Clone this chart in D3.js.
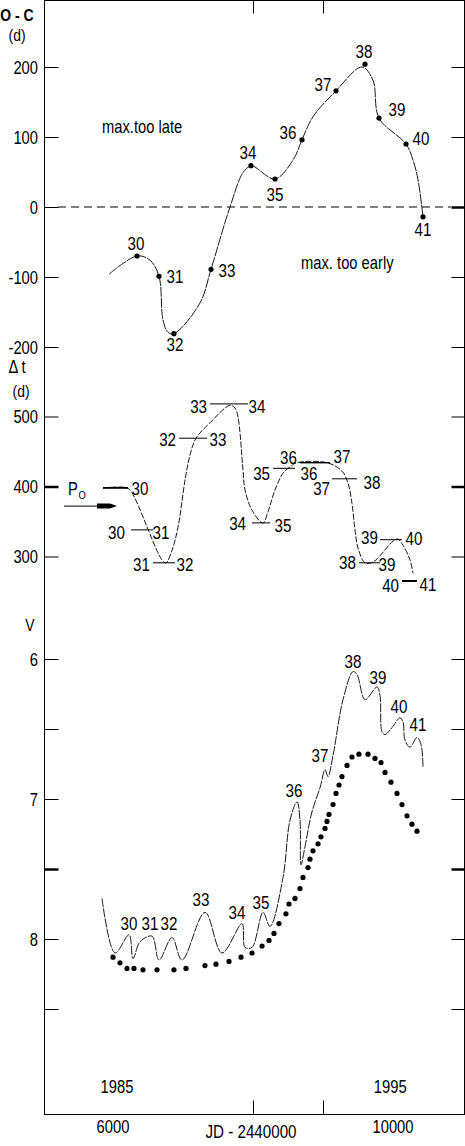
<!DOCTYPE html>
<html><head><meta charset="utf-8">
<script src="https://cdn.jsdelivr.net/npm/d3@7"></script>
<style>
html,body{margin:0;padding:0;background:#fff;}
svg{display:block;font-family:"Liberation Sans",Arial,Helvetica,sans-serif;}
</style></head><body>
<svg id="c" width="465" height="1146"></svg>
<script>
// ---------------- DATA ----------------
// Panel 1: O - C of maxima (days)
const ocMaxima = ["30","31","32","33","34","35","36","37","38","39","40","41"];
const ocJD     = [6343, 6657, 6871, 7400, 7971, 8314, 8700, 9186, 9600, 9800, 10186, 10429];
const ocValue  = [-70, -99, -181, -89, 59, 40, 96, 166, 204, 127, 90, -14];
const ocCurveJD    = [5943, 6343, 6529, 6657, 6714, 6786, 6871, 7243, 7400, 7671, 7857, 7971, 8029, 8314, 8571, 8700, 8857, 9186, 9557, 9714, 9800, 10186, 10286, 10357, 10429];
const ocCurveValue = [-96, -70, -76, -99, -161, -179, -181, -137, -89, 0, 49, 59, 57, 40, 67, 96, 129, 166, 200, 181, 127, 90, 67, 39, -14];
const ocTicks = [200, 100, 0, -100, -200];

// Panel 2: interval between successive maxima (days)
const dtStartLabel = ["", "30","31","32","33","34","35","36","37","38","39","40"];
const dtEndLabel   = ["30","31","32","33","34","35","36","37","38","39","40","41"];
const dtStartJD = [5857, 6257, 6571, 6943, 7386, 7986, 8286, 8671, 9129, 9514, 9814, 10129];
const dtEndJD   = [6214, 6571, 6886, 7343, 7929, 8243, 8600, 9100, 9486, 9814, 10129, 10343];
const dtValue   = [398, 338, 291, 469, 518, 348, 426, 434, 411, 291, 324, 265];
const dtCurveJD    = [5857, 6200, 6271, 6700, 6757, 6843, 6929, 7029, 7100, 7186, 7386, 7671, 7743, 7786, 7857, 7886, 7986, 8143, 8214, 8314, 8429, 8529, 8629, 9057, 9271, 9357, 9414, 9457, 9500, 9600, 9714, 10057, 10143, 10243, 10286];
const dtCurveValue = [398, 398, 391, 295, 291, 309, 342, 409, 445, 469, 491, 516, 512, 499, 424, 395, 366, 348, 364, 395, 419, 428, 434, 434, 422, 405, 376, 338, 312, 291, 292, 325, 316, 295, 276];
const p0ArrowJD = [5300, 6057];
const p0ArrowValue = 372;
const dtTicks = [500, 400, 300];

// Panel 3: V magnitude light curve and mean (dots)
const vCurveJD  = [5843, 6029, 6229, 6286, 6386, 6557, 6657, 6843, 6986, 7314, 7557, 7843, 7886, 7986, 8143, 8243, 8429, 8529, 8629, 8671, 8686, 8743, 8843, 8957, 9029, 9071, 9143, 9286, 9429, 9486, 9600, 9771, 9814, 9843, 9886, 9986, 10100, 10143, 10171, 10243, 10343, 10400, 10429];
const vCurveMag = [7.71, 8.10, 7.97, 8.14, 8.02, 7.98, 8.15, 7.99, 8.15, 7.81, 8.10, 7.89, 8.06, 8.06, 7.81, 7.91, 7.56, 7.15, 7.02, 7.15, 7.47, 7.34, 7.09, 6.92, 6.79, 6.84, 6.69, 6.29, 6.09, 6.11, 6.29, 6.20, 6.26, 6.52, 6.54, 6.49, 6.42, 6.45, 6.58, 6.63, 6.56, 6.61, 6.77];
const vMeanJD  = [6000, 6100, 6200, 6300, 6429, 6629, 6871, 7043, 7314, 7471, 7657, 7829, 7986, 8129, 8229, 8300, 8371, 8471, 8514, 8600, 8671, 8714, 8786, 8814, 8857, 8929, 8971, 9029, 9057, 9086, 9143, 9186, 9229, 9271, 9343, 9414, 9514, 9643, 9743, 9829, 9886, 9971, 10057, 10129, 10200, 10271, 10343];
const vMeanMag = [8.13, 8.17, 8.21, 8.21, 8.22, 8.22, 8.22, 8.21, 8.19, 8.18, 8.16, 8.13, 8.10, 8.05, 8.01, 7.96, 7.89, 7.82, 7.75, 7.71, 7.64, 7.56, 7.49, 7.43, 7.37, 7.32, 7.27, 7.21, 7.16, 7.11, 7.04, 6.96, 6.90, 6.84, 6.76, 6.70, 6.68, 6.68, 6.71, 6.74, 6.81, 6.88, 6.96, 7.04, 7.12, 7.18, 7.23];
const vLabels   = ["30","31","32","33","34","35","36","37","38","39","40","41"];
const vLabelJD  = [6229, 6529, 6800, 7257, 7771, 8114, 8586, 8957, 9429, 9786, 10086, 10357];
const vLabelMag = [7.886, 7.886, 7.886, 7.72, 7.81, 7.74, 6.94, 6.69, 6.02, 6.13, 6.34, 6.47];
const vTicks = [6, 6.5, 7, 7.5, 8, 8.5];
const vTickLabels = {6: "6", 7: "7", 8: "8"};

// x axis
const xTicks = [8000, 9000];
const xTickLabels = [6000, 10000];
const yearLabels = ["1985", "1995"];
const yearJD = [6057, 9960];

// ---------------- LAYOUT ----------------
const svg = d3.select("#c");
const FL = 44.5, FR = 464.5, FT = 0.5, FB = 1114.5;
const x = d3.scaleLinear().domain([5000, 11000]).range([43, 463]);
const yOC = d3.scaleLinear().domain([-200, 200]).range([347, 67]);
const yDT = d3.scaleLinear().domain([300, 500]).range([556.5, 416.5]);
const yV  = d3.scaleLinear().domain([6, 8.5]).range([659, 1009]);
const SX = 0.82; // narrow type

function ntext(sel, px, py, s, size, anchor, weight) {
  return sel.append("text")
    .attr("transform", `translate(${px},${py}) scale(${SX},1)`)
    .attr("text-anchor", anchor || "middle")
    .attr("dy", "0.36em")
    .style("font-size", size + "px")
    .style("font-weight", weight || "normal")
    .text(s);
}

const LBL = 18.5, TCK = 18;

// frame
svg.append("rect").attr("x", FL).attr("y", FT).attr("width", FR - FL).attr("height", FB - FT)
  .attr("fill", "none").attr("stroke", "#000").attr("stroke-width", 1);

// y axes helper
function yAxes(scale, ticks, labels, thickLeft, thickRight) {
  const gl = svg.append("g").attr("transform", `translate(${FL},0)`)
    .call(d3.axisLeft(scale).tickValues(ticks).tickSize(-14).tickPadding(7)
      .tickFormat(d => labels ? (labels[d] !== undefined ? labels[d] : "") : d));
  gl.select(".domain").remove();
  gl.selectAll(".tick line").attr("stroke", "#000")
    .attr("stroke-width", d => thickLeft.includes(d) ? 2.5 : 1);
  gl.selectAll(".tick text").attr("x", null).attr("dy", "0.36em")
    .attr("transform", `translate(-6.5,0) scale(${SX},1)`)
    .style("font-size", TCK + "px").style("font-family", "Liberation Sans, Arial, sans-serif").attr("fill", "#000");
  const gr = svg.append("g").attr("transform", `translate(${FR},0)`)
    .call(d3.axisRight(scale).tickValues(ticks).tickSize(-13).tickFormat(""));
  gr.select(".domain").remove();
  gr.selectAll(".tick line").attr("stroke", "#000")
    .attr("stroke-width", d => thickRight.includes(d) ? 2.5 : 1);
}
yAxes(yOC, ocTicks, null, [], [0]);
yAxes(yDT, dtTicks, null, [400], [400]);
yAxes(yV, vTicks, vTickLabels, [7.5], [7.5]);

// x axes (top & bottom inner ticks)
const gt = svg.append("g").attr("transform", `translate(0,${FT})`)
  .call(d3.axisTop(x).tickValues(xTicks).tickSize(-13).tickFormat(""));
gt.select(".domain").remove();
const gb = svg.append("g").attr("transform", `translate(0,${FB})`)
  .call(d3.axisBottom(x).tickValues(xTicks).tickSize(-14).tickFormat(""));
gb.select(".domain").remove();
svg.selectAll(".tick line").attr("stroke", "#000");

xTickLabels.forEach(v => ntext(svg, x(v), 1127, String(v), 18));
ntext(svg, 251, 1131, "JD - 2440000", 18.5);
yearLabels.forEach((s, i) => ntext(svg, x(yearJD[i]), 1087, s, 18));

// axis titles
ntext(svg, 17, 15, "O - C", 17, "middle", "bold");
ntext(svg, 17, 35, "(d)", 17);
ntext(svg, 17, 367, "\u0394 t", 18);
ntext(svg, 21, 391, "(d)", 17);
ntext(svg, 30, 625, "V", 17);

const lineStyle = (p, dash) => p.attr("fill", "none").attr("stroke", "#000").attr("stroke-width", 0.9)
  .attr("stroke-dasharray", dash);

// ---------- Panel 1 ----------
svg.append("line").attr("x1", 58).attr("x2", 451).attr("y1", yOC(0)).attr("y2", yOC(0))
  .attr("stroke", "#000").attr("stroke-width", 1).attr("stroke-dasharray", "8,5");
const ocLine = d3.line().x(d => x(d[0])).y(d => yOC(d[1])).curve(d3.curveCatmullRom.alpha(0.5));
lineStyle(svg.append("path").attr("d", ocLine(ocCurveJD.map((j, i) => [j, ocCurveValue[i]]))), "10,1");
svg.append("g").selectAll("circle").data(ocJD).join("circle")
  .attr("cx", d => x(d)).attr("cy", (d, i) => yOC(ocValue[i])).attr("r", 2.6).attr("fill", "#000");
const ocLabelOff = [[-1,-13],[16,0],[1,11],[16,1],[-3,-13],[0,15],[-14,-7],[-13,-6],[-1,-13],[18,-9],[15,-6],[0,13]];
ocMaxima.forEach((s, i) => ntext(svg, x(ocJD[i]) + ocLabelOff[i][0], yOC(ocValue[i]) + ocLabelOff[i][1], s, LBL));
ntext(svg, 102, 127, "max.too late", 18, "start");
ntext(svg, 301, 263, "max. too early", 18, "start");

// ---------- Panel 2 ----------
const dtLine = d3.line().x(d => x(d[0])).y(d => yDT(d[1])).curve(d3.curveCatmullRom.alpha(0.5));
lineStyle(svg.append("path").attr("d", dtLine(dtCurveJD.map((j, i) => [j, dtCurveValue[i]]))), "6,1.6");
const barW = [1.8, 1, 1, 1, 1, 1, 1, 1.4, 1, 1, 1, 2];
svg.append("g").selectAll("line").data(dtValue).join("line")
  .attr("x1", (d, i) => x(dtStartJD[i])).attr("x2", (d, i) => x(dtEndJD[i]))
  .attr("y1", d => yDT(d)).attr("y2", d => yDT(d))
  .attr("stroke", "#000").attr("stroke-width", (d, i) => barW[i]);
const dtLdx = [0, -3, 0, 0, 0, -3, 0, 0, 1, 0, 1, 0];
const dtLdy = [0, 2, 2, 1, 2, 0, 5, -5, 10, 0, -2, 4];
const dtRdx = [2, -2, 0, 1, -1, 3, 4, 2, 5, -3, 2, 1];
const dtRdy = [0, 2, 2, 1, 2, 2, 5, -6, 4, 2, -1, 3];
dtValue.forEach((v, i) => {
  if (dtStartLabel[i]) ntext(svg, x(dtStartJD[i]) - 3 + dtLdx[i], yDT(v) + dtLdy[i], dtStartLabel[i], LBL, "end");
  ntext(svg, x(dtEndJD[i]) + 1.5 + dtRdx[i], yDT(v) + dtRdy[i], dtEndLabel[i], LBL, "start");
});
// P0 arrow
const ay = yDT(p0ArrowValue), ax0 = x(p0ArrowJD[0]), ax1 = x(p0ArrowJD[1]);
svg.append("line").attr("x1", ax0).attr("x2", ax1 - 15).attr("y1", ay).attr("y2", ay).attr("stroke", "#000").attr("stroke-width", 1);
svg.append("path").attr("d", `M${ax1 - 20},${ay - 2.5}L${ax1 - 7},${ay - 2.5}L${ax1},${ay}L${ax1 - 7},${ay + 2.5}L${ax1 - 20},${ay + 2.5}Z`).attr("fill", "#000");
ntext(svg, 68, 489, "P", 18, "start");
ntext(svg, 78.5, 495, "O", 11.5, "start");

// ---------- Panel 3 ----------
const vLine = d3.line().x(d => x(d[0])).y(d => yV(d[1])).curve(d3.curveCatmullRom.alpha(0.5));
lineStyle(svg.append("path").attr("d", vLine(vCurveJD.map((j, i) => [j, vCurveMag[i]]))), "9,1.2");
svg.append("g").selectAll("circle").data(vMeanJD).join("circle")
  .attr("cx", d => x(d)).attr("cy", (d, i) => yV(vMeanMag[i])).attr("r", 2.6).attr("fill", "#000");
vLabels.forEach((s, i) => ntext(svg, x(vLabelJD[i]), yV(vLabelMag[i]), s, LBL));
</script>
</body></html>
